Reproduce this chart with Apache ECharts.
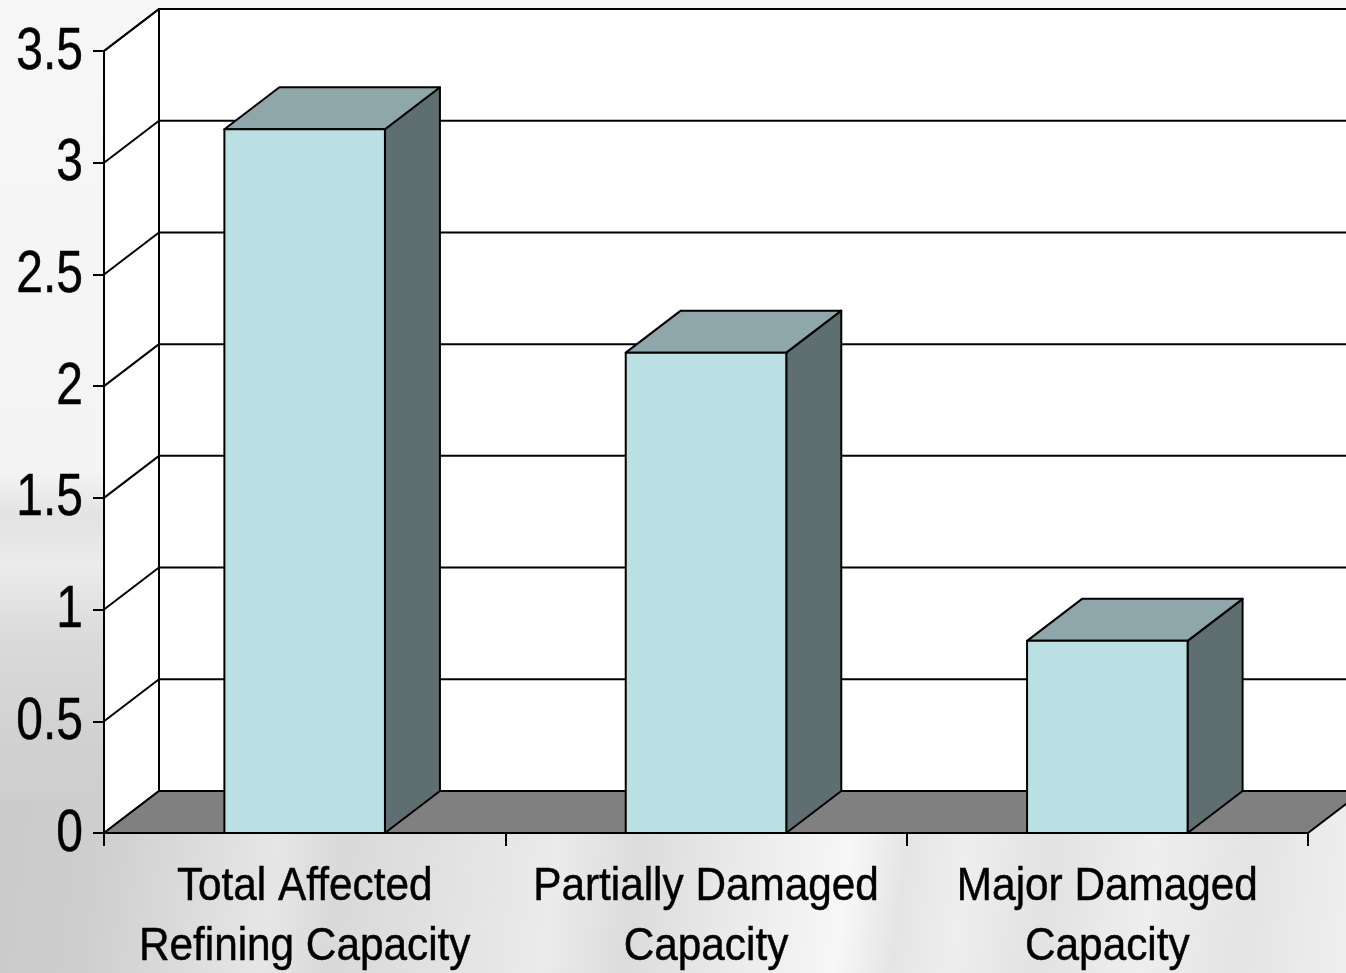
<!DOCTYPE html>
<html>
<head>
<meta charset="utf-8">
<style>
html,body{margin:0;padding:0;width:1346px;height:973px;overflow:hidden;}
body{
  background-color:#e4e4e4;
  background-image:
    linear-gradient(97deg, #cacaca 0, #cecece 100px, #d9d9d9 180px, #e6e6e6 280px, #d9d9d9 345px, #e3e3e3 470px, #ebebeb 560px, #dcdcdc 640px, #e7e7e7 720px, #f7f7f7 850px, #e5e5e5 905px, #eeeeee 965px, #e2e2e2 1050px, #eeeeee 1150px, #e4e4e4 1250px, #eeeeee 1346px),
    linear-gradient(180deg, #f6f6f6 0, #f4f4f4 470px, #e3e3e3 515px, #ebebeb 565px, #dadada 640px, #cfcfcf 760px, #cacaca 973px);
  background-size:100% 173px,100% 100%;
  background-position:0 800px,0 0;
  background-repeat:no-repeat;
}
#main{width:1346px;height:973px;}
</style>
<script src="https://cdn.jsdelivr.net/npm/echarts@6/dist/echarts.min.js"></script>
</head>
<body>
<div id="main"></div>
<script>
var categories = ['Total Affected\nRefining Capacity', 'Partially Damaged\nCapacity', 'Major Damaged\nCapacity'];
var values = [3.15, 2.15, 0.86];
var yTicks = [0.5, 1, 1.5, 2, 2.5, 3, 3.5];
var yLabels = [0, 0.5, 1, 1.5, 2, 2.5, 3, 3.5];

var DX = 55, DY = -42;
var FONT = '"Liberation Sans",Arial,sans-serif';
var INK = '#000000';

function poly(points, fill) {
  return { type: 'polygon', shape: { points: points }, style: { fill: fill, stroke: INK, lineWidth: 2, lineJoin: 'round' } };
}
function line(x1, y1, x2, y2) {
  return { type: 'line', shape: { x1: x1, y1: y1, x2: x2, y2: y2 }, style: { stroke: INK, lineWidth: 2 } };
}
function squeezed(text, x, y, size, sx, align) {
  return { type: 'text', x: x, y: y, scaleX: sx, style: {
    text: text, fill: INK, stroke: INK, lineWidth: 0.5, fontFamily: FONT, fontSize: size,
    textAlign: align, textVerticalAlign: 'middle'
  } };
}

var chart = echarts.init(document.getElementById('main'), null, { renderer: 'canvas' });
chart.setOption({
  backgroundColor: 'transparent',
  animation: false,
  grid: { left: 104, right: 38, top: 51, bottom: 140, containLabel: false },
  xAxis: {
    type: 'category',
    data: categories,
    z: 5,
    boundaryGap: true,
    axisLine: { show: true, lineStyle: { color: INK, width: 2 } },
    axisTick: { show: true, length: 13, alignWithLabel: false, lineStyle: { color: INK, width: 2 } },
    axisLabel: { show: false },
    splitLine: { show: false }
  },
  yAxis: {
    type: 'value',
    min: 0, max: 3.5, interval: 0.5,
    z: 5,
    axisLine: { show: true, lineStyle: { color: INK, width: 2 } },
    axisTick: { show: true, length: 11, lineStyle: { color: INK, width: 2 } },
    axisLabel: { show: false },
    splitLine: { show: false }
  },
  series: [
    {
      type: 'custom', coordinateSystem: 'cartesian2d', silent: true, clip: false, z: 1,
      data: [0],
      encode: { x: -1, y: -1 },
      renderItem: function (params, api) {
        var cs = params.coordSys;
        var l = cs.x, r = cs.x + cs.width, t = cs.y, b = cs.y + cs.height;
        return { type: 'group', children: [
          poly([[l + DX, t + DY], [r + DX, t + DY], [r + DX, b + DY], [l + DX, b + DY]], '#ffffff'),
          poly([[l, t], [l + DX, t + DY], [l + DX, b + DY], [l, b]], '#ffffff'),
          poly([[l, b], [l + DX, b + DY], [r + DX, b + DY], [r, b]], '#808080')
        ] };
      }
    },
    {
      type: 'custom', coordinateSystem: 'cartesian2d', silent: true, clip: false, z: 2,
      data: yTicks.map(function (v) { return [0, v]; }),
      encode: { y: 1 },
      renderItem: function (params, api) {
        var cs = params.coordSys;
        var y = api.coord([0, api.value(1)])[1];
        var l = cs.x, r = cs.x + cs.width;
        return { type: 'group', children: [
          line(l, y, l + DX, y + DY),
          line(l + DX, y + DY, r + DX, y + DY)
        ] };
      }
    },
    {
      type: 'custom', coordinateSystem: 'cartesian2d', silent: true, clip: false, z: 3,
      data: values.map(function (v, i) { return [i, v]; }),
      encode: { x: 0, y: 1 },
      renderItem: function (params, api) {
        var top = api.coord([api.value(0), api.value(1)]);
        var base = api.coord([api.value(0), 0]);
        var w = api.size([1, 0])[0] * 0.4;
        var x0 = top[0] - w / 2, x1 = top[0] + w / 2, yT = top[1], yB = base[1];
        return { type: 'group', children: [
          poly([[x1, yT], [x1 + DX, yT + DY], [x1 + DX, yB + DY], [x1, yB]], '#5e6e71'),
          poly([[x0, yT], [x0 + DX, yT + DY], [x1 + DX, yT + DY], [x1, yT]], '#8ea7aa'),
          poly([[x0, yT], [x1, yT], [x1, yB], [x0, yB]], '#bbe0e3')
        ] };
      }
    },
    {
      type: 'custom', coordinateSystem: 'cartesian2d', silent: true, clip: false, z: 6,
      data: yLabels.map(function (v) { return [0, v]; }),
      encode: { y: 1 },
      renderItem: function (params, api) {
        var v = api.value(1);
        return squeezed(String(v), params.coordSys.x - 21, api.coord([0, v])[1] + 1, 60, 0.8, 'right');
      }
    },
    {
      type: 'custom', coordinateSystem: 'cartesian2d', silent: true, clip: false, z: 6,
      data: categories.map(function (c, i) { return [i, 0]; }),
      encode: { x: 0, y: 1 },
      renderItem: function (params, api) {
        var i = api.value(0);
        var p = api.coord([i, 0]);
        var lines = categories[i].split('\n');
        return { type: 'group', children: lines.map(function (t, k) {
          return squeezed(t, p[0], p[1] + 54 + k * 60, 47, 0.9, 'center');
        }) };
      }
    }
  ]
});
</script>
</body>
</html>
